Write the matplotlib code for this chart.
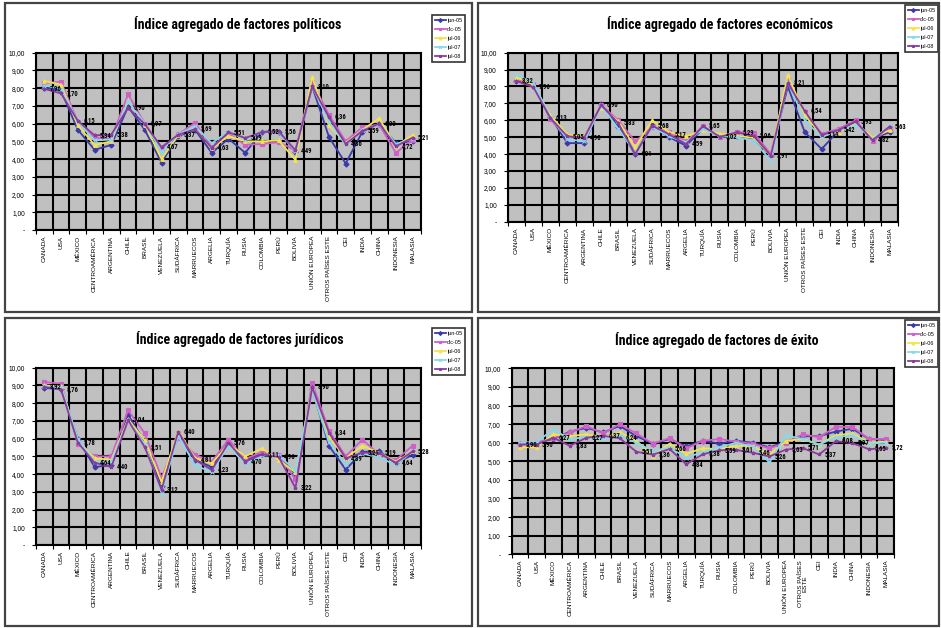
import matplotlib
matplotlib.use('Agg')
import matplotlib.pyplot as plt
from matplotlib import font_manager
from matplotlib.patches import Rectangle
from matplotlib.ticker import FuncFormatter

W, H = 941, 628

countries = ["CANADA", "USA", "MÉXICO", "CENTROAMÉRICA", "ARGENTINA", "CHILE", "BRASIL",
             "VENEZUELA", "SUDÁFRICA", "MARRUECOS", "ARGELIA", "TURQUÍA", "RUSIA",
             "COLOMBIA", "PERÚ", "BOLIVIA", "UNIÓN EUROPEA", "OTROS PAÍSES ESTE", "CEI",
             "INDIA", "CHINA", "INDONESIA", "MALASIA"]
countries_exito = countries[:17] + ["OTROS PAÍSES\nESTE"] + countries[18:]

series_names = ["jun-05", "dic-05", "jul-06", "jul-07", "jul-08"]

# Índice agregado de factores políticos
pol_jun05 = [8.03, 7.85, 5.65, 4.52, 4.80, 6.95, 5.65, 3.80, 5.30, 5.65, 4.35, 5.15, 4.35, 5.55, 5.55, 4.40, 8.10, 5.25, 3.75, 5.55, 6.00, 4.90, 5.00]
pol_dic05 = [8.30, 8.35, 6.10, 5.20, 5.15, 7.65, 6.00, 4.60, 5.40, 6.05, 4.70, 5.45, 4.80, 4.85, 4.95, 4.50, 8.35, 6.50, 5.00, 5.80, 5.95, 4.35, 5.10]
pol_jul06 = [8.40, 8.20, 5.90, 4.80, 5.00, 7.30, 5.95, 4.00, 5.35, 5.75, 4.60, 5.30, 5.00, 5.00, 5.05, 3.95, 8.65, 5.90, 4.90, 5.65, 6.30, 4.75, 5.35]
pol_jul07 = [8.15, 7.95, 6.10, 5.05, 5.10, 7.25, 6.00, 4.40, 5.40, 5.85, 4.90, 5.55, 5.10, 5.55, 5.50, 4.45, 8.10, 6.10, 4.80, 5.65, 5.95, 4.85, 5.15]
pol_jul08 = [7.96, 7.70, 6.15, 5.34, 5.38, 6.90, 5.97, 4.67, 5.37, 5.69, 4.63, 5.51, 5.19, 5.52, 5.56, 4.49, 8.10, 6.36, 4.86, 5.59, 6.00, 4.72, 5.21]

# Índice agregado de factores económicos
eco_jun05 = [8.35, 8.05, 6.20, 4.65, 4.65, 6.95, 5.60, 4.00, 5.70, 5.00, 4.50, 5.50, 5.10, 5.10, 4.90, 3.90, 8.00, 5.30, 4.30, 5.40, 5.90, 4.90, 5.30]
eco_dic05 = [8.40, 8.15, 6.05, 5.00, 5.00, 6.90, 6.00, 4.75, 5.60, 5.30, 4.75, 5.65, 5.00, 5.30, 5.25, 4.00, 8.40, 6.50, 5.20, 5.50, 6.00, 4.80, 5.50]
eco_jul06 = [8.55, 8.10, 6.30, 5.15, 5.05, 6.75, 5.95, 4.40, 6.00, 5.30, 5.05, 5.40, 5.20, 5.10, 4.95, 3.90, 8.70, 6.30, 5.10, 5.30, 5.80, 5.00, 5.40]
eco_jul07 = [8.70, 8.20, 6.20, 4.90, 4.75, 6.85, 5.50, 4.10, 5.60, 5.05, 4.70, 5.50, 5.05, 5.00, 4.80, 3.60, 8.25, 6.00, 5.00, 5.40, 5.70, 4.90, 5.65]
eco_jul08 = [8.32, 7.96, 6.13, 5.05, 4.98, 6.90, 5.83, 4.01, 5.68, 5.17, 4.59, 5.65, 5.02, 5.29, 5.06, 3.91, 8.21, 6.54, 5.13, 5.42, 5.93, 4.82, 5.63]

# Índice agregado de factores jurídicos
jur_jun05 = [8.85, 8.80, 6.00, 4.40, 4.50, 7.35, 5.80, 3.35, 6.15, 4.80, 4.40, 5.80, 4.80, 5.15, 5.00, 4.00, 8.80, 5.60, 4.25, 5.25, 5.30, 4.60, 5.10]
jur_dic05 = [9.20, 9.10, 5.70, 5.00, 5.00, 7.60, 6.30, 3.80, 6.05, 5.10, 4.70, 5.95, 4.85, 5.25, 5.05, 3.70, 9.15, 6.45, 5.00, 5.95, 5.10, 4.80, 5.60]
jur_jul06 = [9.00, 8.95, 5.90, 4.90, 4.80, 7.10, 5.90, 3.55, 6.45, 4.90, 4.60, 5.70, 5.00, 5.45, 4.80, 4.10, 8.85, 6.10, 4.90, 5.60, 5.20, 4.70, 5.30]
jur_jul07 = [8.95, 8.90, 6.00, 4.70, 4.70, 7.00, 5.70, 2.95, 6.15, 4.50, 4.10, 5.60, 4.55, 5.05, 5.05, 4.20, 8.70, 5.80, 4.55, 5.15, 4.95, 4.50, 5.30]
jur_jul08 = [8.92, 8.76, 5.78, 4.64, 4.40, 7.04, 5.51, 3.12, 6.40, 4.81, 4.23, 5.76, 4.70, 5.11, 4.96, 3.22, 8.90, 6.34, 4.89, 5.21, 5.19, 4.64, 5.28]

# Índice agregado de factores de éxito
exi_jun05 = [5.95, 6.00, 6.20, 6.60, 6.80, 6.55, 6.90, 6.35, 5.95, 6.20, 5.80, 6.10, 5.95, 6.10, 6.00, 5.75, 6.05, 6.35, 6.35, 6.60, 6.75, 6.20, 6.15]
exi_dic05 = [5.95, 6.00, 6.25, 6.55, 6.90, 6.50, 7.00, 6.50, 5.95, 6.25, 5.70, 6.10, 6.20, 6.05, 5.95, 5.70, 6.00, 6.45, 6.30, 6.85, 6.85, 6.20, 6.20]
exi_jul06 = [5.75, 5.75, 6.45, 6.35, 6.45, 6.30, 6.55, 6.10, 5.30, 5.95, 5.40, 5.70, 5.65, 5.85, 5.80, 5.35, 6.10, 6.20, 5.90, 6.40, 6.50, 6.00, 6.05]
exi_jul07 = [6.00, 6.05, 6.70, 6.20, 6.30, 6.20, 6.40, 6.00, 5.55, 5.75, 5.20, 5.50, 5.75, 6.00, 5.80, 4.95, 6.40, 6.20, 5.90, 6.30, 6.40, 5.95, 6.00]
exi_jul08 = [5.90, 5.90, 6.27, 5.83, 6.27, 6.37, 6.24, 5.51, 5.36, 5.66, 4.84, 5.38, 5.59, 5.61, 5.46, 5.26, 5.63, 5.71, 5.37, 6.08, 5.97, 5.65, 5.72]

colors = ["#3a3aa8", "#d060c8", "#f2e44a", "#88d8ec", "#8a3c9c"]
markers = ["D", "s", "^", "x", "*"]

names = {f.name for f in font_manager.fontManager.ttflist}
narrow = next((n for n in ["Liberation Sans Narrow", "Arial Narrow", "DejaVu Sans Condensed",
                           "Roboto Condensed", "Open Sans Condensed"] if n in names), "Liberation Sans")
plt.rcParams['font.family'] = ["Liberation Sans", "DejaVu Sans"]

fig = plt.figure(figsize=(W / 100, H / 100), dpi=100)
fig.patch.set_facecolor("white")

def fmt_num(v):
    return f"{v:.2f}".replace(".", ",")

def panel(box, title, title_xy, data, legend_xy, ticklabels):
    l, t, r, b = box
    ax = fig.add_axes([l / W, 1 - b / H, (r - l) / W, (b - t) / H])
    ax.set_facecolor("#c0c0c0")
    x = list(range(len(ticklabels)))
    for vals, name, c, m in zip(data, series_names, colors, markers):
        ax.plot(x, vals, color=c, marker=m, ms=2.6, mew=0.8, lw=1.3, label=name, zorder=3)
    for i, v in enumerate(data[-1]):
        ax.annotate(fmt_num(v), (i, v), xytext=(4, 0), textcoords="offset points",
                    fontsize=4.8, fontweight="bold", va="center", ha="left",
                    family=[narrow, "DejaVu Sans"], zorder=5)
    ax.set_xlim(-0.5, len(x) - 0.5)
    ax.set_ylim(0, 10)
    ax.set_yticks(range(11))
    ax.yaxis.set_major_formatter(FuncFormatter(lambda v, p: "-" if v == 0 else fmt_num(v)))
    ax.set_xticks(x)
    ax.set_xticklabels(ticklabels, rotation=90, fontsize=4.6, va="top", ha="center",
                       linespacing=1.0)
    ax.set_xticks([i - 0.5 for i in range(len(x) + 1)], minor=True)
    ax.grid(which="minor", axis="x", color="black", lw=1.5, zorder=1)
    ax.grid(which="major", axis="y", color="black", lw=1.5, zorder=1)
    ax.set_axisbelow(True)
    ax.tick_params(axis="x", which="major", length=0, pad=4)
    ax.tick_params(axis="x", which="minor", length=3, width=0.8)
    ax.tick_params(axis="y", labelsize=4.8, length=3, width=0.8, pad=5)
    for s in ax.spines.values():
        s.set_color("black")
        s.set_linewidth(1.5)
    fig.text(title_xy[0] / W, 1 - title_xy[1] / H, title, ha="center", va="center",
             fontsize=10, fontweight="bold", family=[narrow, "DejaVu Sans"])
    leg = ax.legend(loc="upper left", bbox_to_anchor=(legend_xy[0] / W, 1 - legend_xy[1] / H),
                    bbox_transform=fig.transFigure, fontsize=3.9, frameon=True,
                    fancybox=False, edgecolor="black", handlelength=2.0, borderpad=0.5,
                    labelspacing=0.75, handletextpad=0.3, borderaxespad=0)
    leg.get_frame().set_linewidth(1.2)
    for h in leg.legend_handles:
        h.set_markersize(2)
    return ax

# panel frames
for (x0, y0, x1, y1) in [(5, 3, 472, 312), (478, 3, 939, 312), (5, 318, 472, 626), (478, 318, 939, 626)]:
    fig.add_artist(Rectangle((x0 / W, 1 - y1 / H), (x1 - x0) / W, (y1 - y0) / H,
                             transform=fig.transFigure, fill=False, ec="#444444", lw=1.6))

panel((36, 52.7, 421, 230), "Índice agregado de factores políticos", (238, 24),
      [pol_jun05, pol_dic05, pol_jul06, pol_jul07, pol_jul08], (432, 15), countries)
panel((508, 52.7, 898, 221.7), "Índice agregado de factores económicos", (720, 24),
      [eco_jun05, eco_dic05, eco_jul06, eco_jul07, eco_jul08], (905, 5), countries)
panel((36, 367.7, 421, 545), "Índice agregado de factores jurídicos", (240, 339),
      [jur_jun05, jur_dic05, jur_jul06, jur_jul07, jur_jul08], (432, 328), countries)
panel((511.7, 368.3, 894, 554.3), "Índice agregado de factores de éxito", (717, 340),
      [exi_jun05, exi_dic05, exi_jul06, exi_jul07, exi_jul08], (905, 320), countries_exito)

fig.savefig("out.png", dpi=100)
